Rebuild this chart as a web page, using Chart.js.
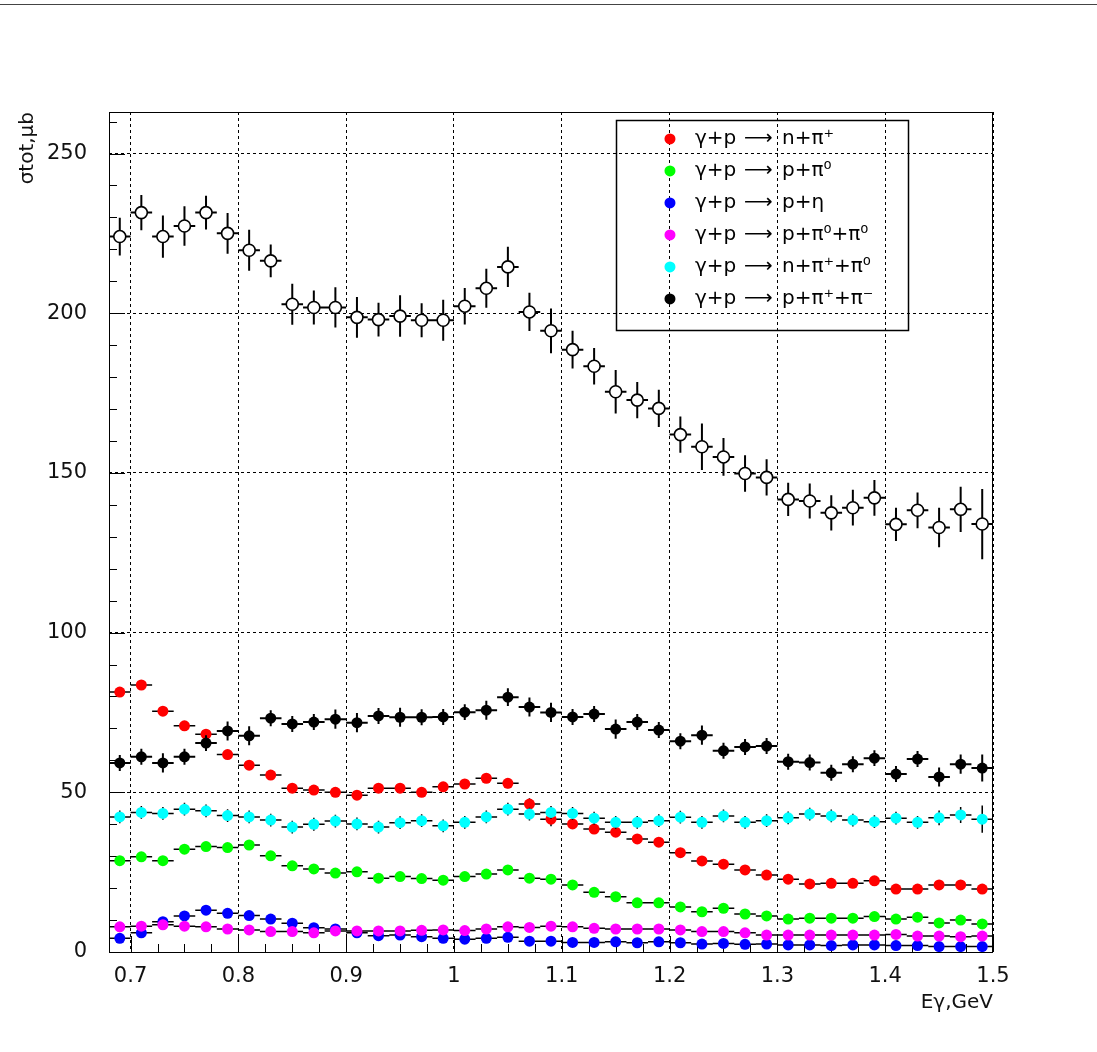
<!DOCTYPE html>
<html>
<head>
<meta charset="utf-8">
<script src="https://cdn.jsdelivr.net/npm/chart.js@4.4.0/dist/chart.umd.min.js"></script>
<style>
  html, body { margin: 0; padding: 0; background: #fff; }
  #wrap { position: relative; width: 1097px; height: 1052px; }
  #topline { position: absolute; left: 0; top: 4px; width: 1097px; border-top: 1px solid #444; }
  canvas { position: absolute; left: 0; top: 0; }
</style>
</head>
<body>
<div id="wrap">
  <canvas id="chart" width="1097" height="1052"></canvas>
  <div id="topline"></div>
</div>
<script>
// --- DATA ---
const energies = [0.69, 0.71, 0.73, 0.75, 0.77, 0.79, 0.81, 0.83, 0.85, 0.87,
  0.89, 0.91, 0.93, 0.95, 0.97, 0.99, 1.01, 1.03, 1.05, 1.07,
  1.09, 1.11, 1.13, 1.15, 1.17, 1.19, 1.21, 1.23, 1.25, 1.27,
  1.29, 1.31, 1.33, 1.35, 1.37, 1.39, 1.41, 1.43, 1.45, 1.47, 1.49];

// total cross section (open circles)
const sigmaTotal = [224, 231.5, 224, 227.3, 231.5, 225, 219.7, 216.4, 202.8, 201.8,
  201.8, 198.7, 198, 199.1, 197.8, 197.8, 202.2, 207.8, 214.5, 200.4,
  194.5, 188.6, 183.4, 175.4, 172.8, 170.2, 162, 158.2, 155, 149.8,
  148.6, 141.7, 141.2, 137.5, 139.1, 142.2, 133.9, 138.3, 132.9, 138.6, 134];
const sigmaTotalErr = [5.9, 5.5, 6.6, 6.2, 5.3, 6.4, 6.4, 5.1, 6.4, 5.3,
  6.3, 6.4, 5.3, 6.5, 5.3, 6.4, 5.7, 6.1, 6.3, 6.0,
  7.0, 5.9, 5.7, 6.8, 5.7, 5.8, 5.7, 7.3, 5.9, 5.7,
  5.7, 5.2, 5.5, 5.5, 5.6, 5.6, 5.2, 5.6, 6.2, 7.1, 11.0];

// gamma p -> n pi+
const nPiPlus = [81.4, 83.6, 75.4, 70.8, 68.2, 61.8, 58.5, 55.4, 51.3, 50.7,
  50, 49.1, 51.3, 51.3, 50, 51.7, 52.6, 54.4, 52.8, 46.3,
  41.6, 40.1, 38.5, 37.5, 35.4, 34.4, 31.1, 28.5, 27.5, 25.7,
  24.1, 22.8, 21.3, 21.5, 21.5, 22.3, 19.7, 19.7, 21, 21, 19.7];
const nPiPlusErr = [1.5, 1.5, 1.5, 1.5, 1.5, 1.5, 1.5, 1.5, 1.5, 1.5,
  1.5, 1.5, 1.5, 1.5, 1.5, 1.5, 1.5, 1.5, 1.5, 1.8,
  2.2, 1.5, 1.5, 1.5, 1.5, 1.5, 1.5, 1.5, 1.5, 1.5,
  1.5, 1.5, 1.5, 1.5, 1.5, 1.5, 1.5, 1.5, 1.5, 1.5, 1.5];

// gamma p -> p pi0
const pPi0 = [28.6, 29.8, 28.6, 32.2, 33, 32.7, 33.5, 30.1, 27, 26,
  24.7, 25.1, 23.1, 23.6, 23, 22.5, 23.6, 24.4, 25.7, 23.1,
  22.8, 21, 18.7, 17.3, 15.4, 15.4, 14.1, 12.6, 13.7, 11.9,
  11.3, 10.3, 10.6, 10.6, 10.6, 11.1, 10.3, 10.9, 9.1, 10, 8.8];

// gamma p -> p eta
const pEta = [4.3, 6, 9.5, 11.3, 13.1, 12.1, 11.4, 10.3, 9, 7.6,
  7.2, 6, 5.1, 5.3, 4.8, 4.3, 4, 4.3, 4.6, 3.4,
  3.4, 3, 3, 3.2, 2.9, 3.2, 2.9, 2.5, 2.7, 2.4,
  2.5, 2.2, 2.2, 2, 2.2, 2.2, 2, 2, 1.7, 1.7, 1.7];

// gamma p -> p pi0 pi0
const pPi0Pi0 = [7.9, 8.1, 8.5, 8.1, 7.9, 7.2, 6.9, 6.4, 6.4, 6,
  6.6, 6.6, 6.6, 6.6, 6.8, 6.9, 6.7, 7.2, 7.9, 7.7,
  8.1, 7.9, 7.4, 7.2, 7.2, 7.2, 6.9, 6.4, 6.4, 6,
  5.3, 5.3, 5.3, 5.3, 5.3, 5.3, 5.5, 5, 5, 4.8, 5];

// gamma p -> n pi+ pi0
const nPiPlusPi0 = [42.3, 43.7, 43.4, 44.7, 44.2, 42.7, 42.3, 41.3, 39.1, 40,
  41, 40.1, 39.1, 40.5, 41.1, 39.5, 40.6, 42.3, 44.7, 43.2,
  43.7, 43.4, 41.9, 40.6, 40.6, 41.1, 42.2, 40.6, 42.6, 40.6,
  41.1, 42, 43.2, 42.6, 41.3, 40.8, 41.9, 40.6, 42, 42.9, 41.6];
const nPiPlusPi0Err = [2, 2, 2, 2, 2, 2, 2, 2, 2, 2,
  2, 2, 2, 2, 2, 2, 2, 2, 2, 2,
  2, 2, 2, 2, 2, 2, 2, 2, 2, 2,
  2, 2, 2, 2, 2, 2, 2, 2, 2.3, 2.5, 4.3];

// gamma p -> p pi+ pi-
const pPiPlusPiMinus = [59.2, 61.1, 59.2, 61.1, 65.4, 69.2, 67.7, 73.2, 71.4, 72,
  72.9, 71.8, 73.9, 73.5, 73.5, 73.6, 75.1, 75.7, 79.8, 76.7,
  75, 73.6, 74.5, 69.8, 72, 69.5, 66, 67.9, 63, 64.2,
  64.5, 59.6, 59.3, 56.1, 58.8, 60.7, 55.7, 60.4, 54.8, 58.8, 57.6];
const pPiPlusPiMinusErr = [2.5, 2.5, 3, 2.5, 2.5, 3, 3, 2.5, 2.5, 2.5,
  3, 3, 2.5, 3, 2.5, 2.5, 2.5, 3, 2.8, 3,
  3, 2.5, 2.5, 3, 2.5, 2.5, 2.5, 3, 2.5, 2.5,
  2.5, 2.5, 2.5, 2.5, 2.5, 2.5, 2.5, 2.5, 3, 3, 4.2];

const binHalfWidth = 0.01;

const channelLabels = [
  ['\u03b3+p', 'n+\u03c0\u207a'],
  ['\u03b3+p', 'p+\u03c0\u2070'],
  ['\u03b3+p', 'p+\u03b7'],
  ['\u03b3+p', 'p+\u03c0\u2070+\u03c0\u2070'],
  ['\u03b3+p', 'n+\u03c0\u207a+\u03c0\u2070'],
  ['\u03b3+p', 'p+\u03c0\u207a+\u03c0\u207b']
];
const channelColors = ['#ff0000', '#00ff00', '#0000ff', '#ff00ff', '#00ffff', '#000000'];

const xTickValues = [0.7, 0.8, 0.9, 1.0, 1.1, 1.2, 1.3, 1.4, 1.5];
const xTickLabels = ['0.7', '0.8', '0.9', '1', '1.1', '1.2', '1.3', '1.4', '1.5'];
const yTickValues = [0, 50, 100, 150, 200, 250];
const yTickLabels = ['0', '50', '100', '150', '200', '250'];

const FONT = 'DejaVu Sans';

// --- HELPERS ---
function toPoints(values, errs) {
  return energies.map((e, i) => ({ x: e, y: values[i], err: errs ? errs[i] : 0 }));
}

function channelDataset(idx, values, errs) {
  return {
    label: channelLabels[idx].join(' \u27f6 '),
    data: toPoints(values, errs),
    pointStyle: 'circle',
    pointRadius: 5.5,
    pointBackgroundColor: channelColors[idx],
    pointBorderColor: channelColors[idx],
    pointBorderWidth: 0,
    barWidth: idx === 5 ? 2 : 1.5,
    order: 10 - idx,
    showLine: false
  };
}

// error bars: drawn under each dataset's markers
const errorBars = {
  id: 'errorBars',
  beforeDatasetDraw(chart, args) {
    const ds = chart.data.datasets[args.index];
    const { ctx, chartArea: a, scales: { x, y } } = chart;
    ctx.save();
    ctx.beginPath();
    ctx.rect(a.left, a.top, a.right - a.left, a.bottom - a.top);
    ctx.clip();
    ctx.strokeStyle = '#000';
    ctx.lineWidth = ds.barWidth;
    ctx.beginPath();
    ds.data.forEach(p => {
      const px = x.getPixelForValue(p.x);
      const py = y.getPixelForValue(p.y);
      ctx.moveTo(x.getPixelForValue(p.x - binHalfWidth), py);
      ctx.lineTo(x.getPixelForValue(p.x + binHalfWidth), py);
      if (p.err) {
        ctx.moveTo(px, y.getPixelForValue(p.y - p.err));
        ctx.lineTo(px, y.getPixelForValue(p.y + p.err));
      }
    });
    ctx.stroke();
    ctx.restore();
  }
};

// frame with inward ticks (major + minor), like the ROOT canvas
const frame = {
  id: 'frame',
  beforeDatasetsDraw(chart) {
    const { ctx, chartArea: a, scales: { x, y } } = chart;
    ctx.save();
    ctx.strokeStyle = '#000';
    ctx.lineWidth = 1;
    ctx.strokeRect(a.left + 0.5, a.top + 0.5, a.right - a.left - 1, a.bottom - a.top);
    ctx.beginPath();
    for (let k = 0; k <= 40; k++) {
      const v = 0.65 + k * 0.025;
      if (v < x.min - 1e-9 || v > x.max + 1e-9) continue;
      const px = Math.round(x.getPixelForValue(v)) + 0.5;
      const len = k % 4 === 2 ? 16 : 8;
      ctx.moveTo(px, a.bottom);
      ctx.lineTo(px, a.bottom - len);
    }
    for (let k = 0; k <= 30; k++) {
      const v = k * 10;
      if (v > y.max) continue;
      const py = Math.round(y.getPixelForValue(v)) + 0.5;
      const len = k % 5 === 0 ? 16 : 8;
      ctx.moveTo(a.left, py);
      ctx.lineTo(a.left + len, py);
    }
    ctx.stroke();
    ctx.restore();
  }
};

// legend box inside the frame (transparent, as in the original)
const legendBox = {
  id: 'legendBox',
  afterDatasetsDraw(chart) {
    const { ctx, chartArea: a } = chart;
    const w = a.right - a.left;
    const h = a.bottom - a.top;
    const left = a.left + 0.5735 * w;
    const right = a.left + 0.9038 * w;
    const top = a.top + 0.0095 * h;
    const bottom = a.top + 0.2595 * h;
    ctx.save();
    ctx.strokeStyle = '#000';
    ctx.lineWidth = 1.5;
    ctx.strokeRect(Math.round(left) + 0.5, Math.round(top) + 0.5, Math.round(right - left), Math.round(bottom - top));
    ctx.font = '20px "' + FONT + '"';
    ctx.textBaseline = 'middle';
    ctx.fillStyle = '#000';
    channelLabels.forEach((parts, i) => {
      const cy = top + 19 + i * 32;
      ctx.beginPath();
      ctx.fillStyle = channelColors[i];
      ctx.arc(left + 54, cy, 5.5, 0, Math.PI * 2);
      ctx.fill();
      ctx.fillStyle = '#000';
      ctx.textAlign = 'left';
      ctx.fillText(parts[0], left + 79, cy);
      ctx.fillText('\u27f6', left + 128, cy);
      ctx.fillText(parts[1], left + 166, cy);
    });
    ctx.restore();
  }
};

// --- CHART ---
const datasets = [
  channelDataset(0, nPiPlus, nPiPlusErr),
  channelDataset(1, pPi0, null),
  channelDataset(2, pEta, null),
  channelDataset(3, pPi0Pi0, null),
  channelDataset(4, nPiPlusPi0, nPiPlusPi0Err),
  channelDataset(5, pPiPlusPiMinus, pPiPlusPiMinusErr),
  {
    label: 'total',
    data: toPoints(sigmaTotal, sigmaTotalErr),
    pointStyle: 'circle',
    pointRadius: 6,
    pointBackgroundColor: '#ffffff',
    pointBorderColor: '#000000',
    pointBorderWidth: 1.6,
    barWidth: 2,
    order: 0,
    showLine: false
  }
];

new Chart(document.getElementById('chart'), {
  type: 'scatter',
  data: { datasets },
  plugins: [errorBars, frame, legendBox],
  options: {
    responsive: false,
    animation: false,
    events: [],
    layout: { padding: { left: 0, top: 112, right: 104, bottom: 0 } },
    plugins: { legend: { display: false }, tooltip: { enabled: false } },
    scales: {
      x: {
        type: 'linear',
        min: 0.68,
        max: 1.5,
        afterFit: s => { s.height = 100; },
        afterBuildTicks: s => { s.ticks = xTickValues.map(v => ({ value: v })); },
        grid: { color: '#000', lineWidth: 1, drawTicks: false },
        border: { display: false, dash: [3, 3] },
        ticks: {
          autoSkip: false,
          maxRotation: 0,
          padding: 12,
          color: '#111',
          font: { family: FONT, size: 21 },
          callback: (v, i) => xTickLabels[i]
        },
        title: {
          display: true,
          text: 'E\u03b3,GeV',
          align: 'end',
          color: '#111',
          font: { family: FONT, size: 20 },
          padding: { top: 0, bottom: 37 }
        }
      },
      y: {
        type: 'linear',
        min: 0,
        max: 263,
        afterFit: s => { s.width = 109; },
        afterBuildTicks: s => { s.ticks = yTickValues.map(v => ({ value: v })); },
        grid: { color: '#000', lineWidth: 1, drawTicks: false },
        border: { display: false, dash: [3, 3] },
        ticks: {
          autoSkip: false,
          padding: 22,
          color: '#111',
          font: { family: FONT, size: 21 },
          callback: (v, i) => yTickLabels[i]
        },
        title: {
          display: true,
          text: '\u03c3tot,\u03bcb',
          align: 'end',
          color: '#111',
          font: { family: FONT, size: 20 },
          padding: { top: 16, bottom: 0 }
        }
      }
    }
  }
});
</script>
</body>
</html>
